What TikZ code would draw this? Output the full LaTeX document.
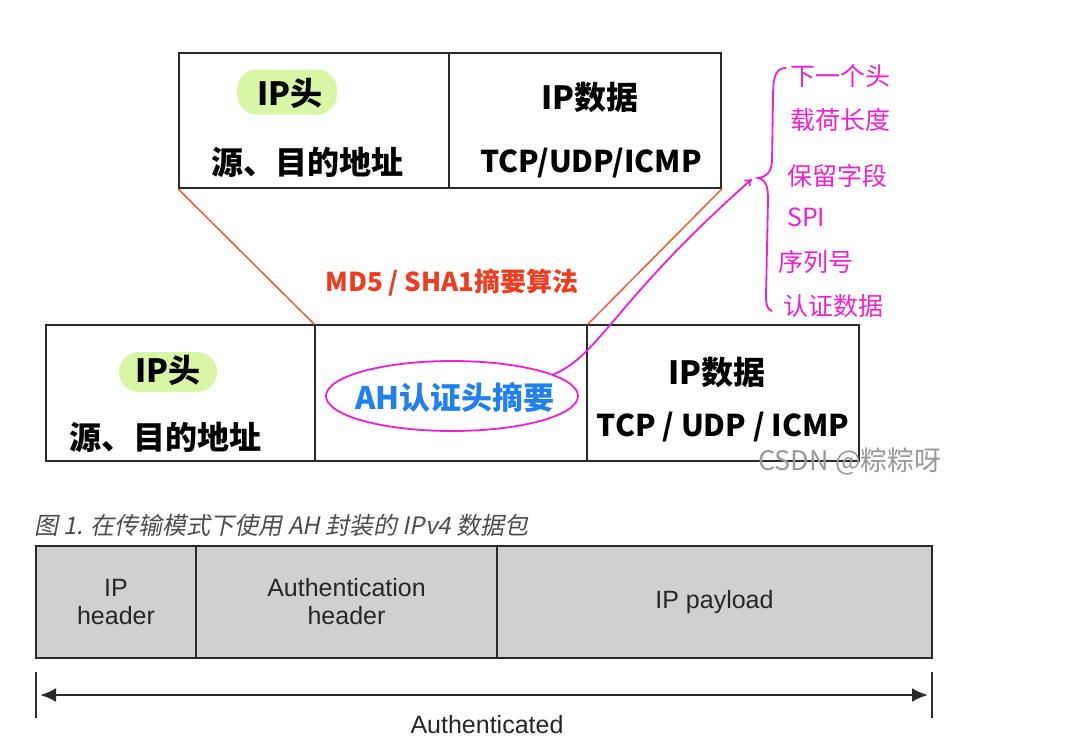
\documentclass[tikz,border=0pt]{standalone}
\usepackage{fontspec}
\setmainfont{Liberation Sans}
\newfontfamily\cjk{Noto Sans CJK SC}
\newfontfamily\cjkit[FakeSlant=0.2]{Noto Sans CJK SC}
\usetikzlibrary{shapes.geometric,arrows.meta}
\definecolor{hl}{HTML}{D9F5A6}
\definecolor{redl}{HTML}{EE5A36}
\definecolor{redt}{HTML}{F03C1E}
\definecolor{bluet}{HTML}{2080F0}
\definecolor{mag}{HTML}{F21FD2}
\definecolor{boxg}{HTML}{D0D0D0}
\definecolor{line}{HTML}{2A2A2A}
\tikzset{
  cell/.style={draw=line, line width=1.8pt, inner sep=0pt, minimum height=135pt},
  gcell/.style={draw=line, line width=1.8pt, fill=boxg, inner sep=0pt, minimum height=112pt, font=\fontsize{25}{28}\selectfont, align=center, text=black!85},
  hand/.style={font=\cjk\bfseries\fontsize{32}{36}\selectfont, text=black, inner sep=0pt},
  handl/.style={font=\cjk\bfseries\fontsize{30}{34}\selectfont, text=black, inner sep=0pt},
  hilite/.style={fill=hl, rounded corners=20pt, inner sep=0pt},
  magt/.style={font=\cjk\fontsize{25}{28}\selectfont, text=mag, anchor=west, inner sep=0pt},
}
\begin{document}
\begin{tikzpicture}[x=1pt,y=-1pt]
\useasboundingbox (0,0) rectangle (1075,742);
% top box
\node[cell, minimum width=270pt] (tl) at (314,120.5) {};
\node[cell, minimum width=272pt] (tr) at (585,120.5) {};
\node[hilite, minimum width=100pt, minimum height=45pt] (h1) at (287,92) {};
\node[hand] (t1) at (290,93) {IP头};
\node[hand] (t2) at (307,162) {源、目的地址};
\node[hand] (t3) at (590,97) {IP数据};
\node[handl] (t4) at (591,163) {TCP/UDP/ICMP};
% bottom box
\node[cell, minimum width=269pt, minimum height=136pt] (bl) at (180.5,393) {};
\node[cell, minimum width=272pt, minimum height=136pt] (bm) at (451,393) {};
\node[cell, minimum width=272pt, minimum height=136pt] (br) at (723,393) {};
\node[hilite, minimum width=98pt, minimum height=40pt] (h2) at (168,372) {};
\node[hand] (b1) at (168,370) {IP头};
\node[hand] (b2) at (165,437) {源、目的地址};
\node[hand] (b3) at (717,372) {IP数据};
\node[handl] (b4) at (723,427) {TCP / UDP / ICMP};
% red lines
\draw[redl, line width=1.5pt] (tl.south west) -- (bm.north west);
\draw[redl, line width=1.5pt] (tr.south east) -- (bm.north east);
\node[font=\cjk\bfseries\fontsize{26}{30}\selectfont, text=redt] (md5) at (452,283) {MD5 / SHA1摘要算法};
% AH ellipse
\node[ellipse, draw=mag, line width=1.8pt, minimum width=252pt, minimum height=70pt, inner sep=0pt] (ah) at (452,396) {};
\node[font=\cjk\bfseries\fontsize{31}{34}\selectfont, text=bluet] (aht) at (455,397) {AH认证头摘要};
% magenta arrow and brace
\coordinate (tip) at (752,179);
\draw[mag, line width=1.8pt, -{To[length=7pt,width=9pt]}] (ah.12) .. controls (600,355) and (615,300) .. (tip);
\draw[mag, line width=1.8pt] (786,68) .. controls (774,68) and (773,80) .. (773,100) -- (772,160) .. controls (772,172) and (766,177) .. (758,178) .. controls (766,180) and (768,186) .. (768,200) -- (766,296) .. controls (766,306) and (768,310) .. (772,311);
\node[magt] (m1) at (790,76) {下一个头};
\node[magt] (m2) at (790,120) {载荷长度};
\node[magt] (m3) at (787,176) {保留字段};
\node[magt] (m4) at (787,217) {SPI};
\node[magt] (m5) at (778,262) {序列号};
\node[magt] (m6) at (783,306) {认证数据};
% watermark
\node[font=\cjk\fontsize{27}{30}\selectfont, text=black!40] (wm) at (850,461) {CSDN @粽粽呀};
% caption
\node[font=\cjkit\fontsize{24}{28}\selectfont, text=black!70, anchor=west, inner sep=0pt] (cap) at (34,525) {图 1. 在传输模式下使用 AH 封装的 IPv4 数据包};
% gray packet
\node[gcell, minimum width=160pt] (g1) at (116,602) {IP\\header};
\node[gcell, minimum width=301pt] (g2) at (346.5,602) {Authentication\\header};
\node[gcell, minimum width=435pt] (g3) at (714.5,602) {IP payload};
\coordinate (l1) at (36,672);
\coordinate (l2) at (36,718);
\coordinate (r1) at (932,672);
\coordinate (r2) at (932,718);
\draw[line, line width=1.3pt] (l1) -- (l2);
\draw[line, line width=1.3pt] (r1) -- (r2);
\coordinate (al) at (40,695);
\coordinate (ar) at (928,695);
\draw[line, line width=2.4pt, {Latex[length=16pt,width=14pt]}-{Latex[length=16pt,width=14pt]}] (al) -- (ar);
\node[font=\fontsize{25}{28}\selectfont, text=black!85] (auth) at (487,725) {Authenticated};
\end{tikzpicture}
\end{document}
